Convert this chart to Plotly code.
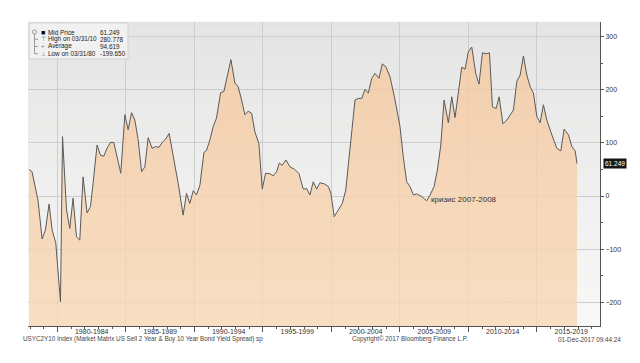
import plotly.graph_objects as go

# ---------------- data ----------------
YEARS = [1977.93, 1978.14, 1978.58, 1978.88, 1979.12, 1979.39, 1979.61, 1979.88,
         1980.22, 1980.37, 1980.66, 1980.90, 1981.14, 1981.39, 1981.63, 1981.87,
         1982.16, 1982.41, 1982.60, 1982.89, 1983.14, 1983.38, 1983.62, 1983.87,
         1984.11, 1984.35, 1984.62, 1984.92, 1985.16, 1985.41, 1985.65, 1985.89,
         1986.14, 1986.38, 1986.62, 1986.91, 1987.16, 1987.42, 1987.67, 1987.89,
         1988.15, 1988.44, 1988.81, 1989.17, 1989.42, 1989.66, 1989.91,
         1990.15, 1990.40, 1990.69, 1990.88, 1991.13, 1991.37, 1991.61, 1991.91,
         1992.15, 1992.39, 1992.66, 1992.95, 1993.19, 1993.44, 1993.68, 1993.92,
         1994.17, 1994.41, 1994.70, 1994.95, 1995.19, 1995.51, 1995.75,
         1996.00, 1996.19, 1996.41, 1996.68, 1996.97, 1997.33, 1997.63, 1997.94,
         1998.19, 1998.43, 1998.67, 1998.92, 1999.16, 1999.47, 1999.77, 1999.96,
         2000.20, 2000.50, 2000.79, 2001.04, 2001.35, 2001.72, 2001.96,
         2002.21, 2002.45, 2002.69, 2002.94, 2003.18, 2003.47, 2003.71, 2003.96,
         2004.27, 2004.64, 2005.00, 2005.24, 2005.49, 2005.73, 2005.98,
         2006.22, 2006.59, 2006.95, 2007.20, 2007.49, 2007.73, 2007.98,
         2008.22, 2008.53, 2008.78, 2009.02, 2009.26, 2009.51, 2009.75, 2009.99,
         2010.24, 2010.53, 2010.77, 2011.02, 2011.29, 2011.53, 2011.75,
         2012.02, 2012.24, 2012.51, 2012.80, 2013.04, 2013.28, 2013.53, 2013.77,
         2014.01, 2014.26, 2014.50, 2014.74, 2014.99, 2015.23, 2015.47, 2015.72,
         2016.09, 2016.45, 2016.74, 2016.98, 2017.30, 2017.55, 2017.79, 2017.92]

SPREAD_BP = [50, 46, -8, -81, -64, -15, -64, -89,
             -199.65, 112, -26, -61, -4, -77, -83, 36,
             -32, -20, 24, 96, 77, 75, 90, 101,
             101, 74, 43, 153, 125, 157, 143, 106,
             46, 55, 110, 90, 93, 92, 102, 107,
             118, 77, 24, -36, 5, -14, 10,
             2, 21, 82, 86, 106, 131, 147, 195,
             197, 228, 257, 213, 206, 181, 153, 160,
             156, 121, 99, 13, 43, 42, 38,
             46, 62, 58, 68, 55, 50, 42, 13,
             14, 2, 27, 13, 25, 23, 18, 5,
             -39, -26, -14, 11, 93, 181, 184,
             184, 201, 194, 222, 231, 222, 249, 244,
             225, 181, 131, 74, 27, 18, 2,
             4, -1, -9, 2, 18, 49, 96,
             181, 138, 187, 148, 194, 243, 239, 272,
             280.778, 231, 211, 270, 268, 270, 168,
             165, 187, 136, 143, 153, 162, 216, 228,
             264, 228, 206, 194, 150, 138, 172, 143,
             115, 90, 85, 126, 115, 93, 85, 61.249]
assert len(YEARS) == len(SPREAD_BP)

PERIOD_STARTS = [1980, 1985, 1990, 1995, 2000, 2005, 2010, 2015]
PERIOD_LABELS = ["1980-1984", "1985-1989", "1990-1994", "1995-1999",
                 "2000-2004", "2005-2009", "2010-2014", "2015-2019"]
Y_TICKS = [-200, -100, 0, 100, 200, 300]

LEGEND_LABELS = ["Mid Price", "High on 03/31/10", "Average", "Low on 03/31/80"]
LEGEND_VALUES = ["61.249", "280.778", "94.619", "-199.650"]
LEGEND_GLYPHS = ["■", "⊤", "+", "⊥"]
LAST_VALUE = SPREAD_BP[-1]

CRISIS_TEXT = "кризис 2007-2008"
CRISIS_YEAR, CRISIS_VALUE = 2007.1, -6

FOOT_LEFT = "USYC2Y10 Index (Market Matrix US Sell 2 Year & Buy 10 Year Bond Yield Spread) sp"
FOOT_MID = "Copyright© 2017 Bloomberg Finance L.P."
FOOT_RIGHT = "01-Dec-2017 09:44:24"

# ---------------- layout geometry ----------------
W, H = 640, 363
ML, MR, MT, MB = 28, 40, 22, 37
X_RANGE = [1977.85, 2019.6]
Y_RANGE = [-245, 328]
FONT = "Liberation Sans, Arial, sans-serif"

PW, PH = W - ML - MR, H - MT - MB


def px(xp):
    return (xp - ML) / PW


def py(yp):
    return (H - MB - yp) / PH


fig = go.Figure()

# baseline for fill to the bottom of the plot
fig.add_trace(go.Scatter(x=YEARS, y=[Y_RANGE[0]] * len(YEARS), mode="lines",
                         line=dict(width=0), hoverinfo="skip", showlegend=False))
fig.add_trace(go.Scatter(
    x=YEARS, y=SPREAD_BP, mode="lines",
    line=dict(color="#5a5a5a", width=1),
    fill="tonexty",
    fillgradient=dict(type="vertical",
                      colorscale=[[0, "rgba(249,216,183,0.82)"],
                                  [1, "rgba(244,202,162,0.82)"]]),
    showlegend=False))
# invisible trace for label axis
fig.add_trace(go.Scatter(x=[X_RANGE[0]], y=[0], xaxis="x2", mode="markers",
                         marker=dict(opacity=0), hoverinfo="skip", showlegend=False))

shapes = []
# background gradient of plot area
N = 40
c_top, c_bot = (228, 228, 228), (248, 248, 247)
for i in range(N):
    t = i / (N - 1)
    c = tuple(round(c_top[k] + (c_bot[k] - c_top[k]) * t) for k in range(3))
    shapes.append(dict(type="rect", xref="x domain", yref="y domain",
                       x0=0, x1=1, y0=1 - (i + 1) / N, y1=1 - i / N + 0.001,
                       fillcolor="rgb(%d,%d,%d)" % c, line=dict(width=0), layer="below"))

# legend box
shapes.append(dict(type="rect", xref="paper", yref="paper",
                   x0=px(29), x1=px(128), y0=py(59), y1=py(23),
                   fillcolor="#f1f1f1", line=dict(color="#cfcfcf", width=1), layer="above"))
shapes.append(dict(type="line", xref="paper", yref="paper",
                   x0=px(34.5), x1=px(34.5), y0=py(53.7), y1=py(33),
                   line=dict(color="#9a9a9a", width=1), layer="above"))
ROW_Y = [32, 39.3, 46.5, 53.7]
for ry in ROW_Y[1:]:
    shapes.append(dict(type="line", xref="paper", yref="paper",
                       x0=px(34.5), x1=px(38), y0=py(ry), y1=py(ry),
                       line=dict(color="#9a9a9a", width=1), layer="above"))
shapes.append(dict(type="circle", xref="paper", yref="paper",
                   x0=px(32.5), x1=px(36.5), y0=py(34), y1=py(30),
                   line=dict(color="#9a9a9a", width=1), fillcolor="#f1f1f1", layer="above"))

annotations = []
for i, (lab, val, gl) in enumerate(zip(LEGEND_LABELS, LEGEND_VALUES, LEGEND_GLYPHS)):
    annotations.append(dict(xref="paper", yref="paper", x=px(38.5), y=py(ROW_Y[i]),
                            text=gl, showarrow=False, xanchor="left", yanchor="middle",
                            font=dict(family=FONT, size=7 if i == 0 else 6,
                                      color="#000" if i == 0 else "#777")))
    annotations.append(dict(xref="paper", yref="paper", x=px(45.5), y=py(ROW_Y[i]),
                            text=lab, showarrow=False, xanchor="left", yanchor="middle",
                            font=dict(family=FONT, size=6.4, color="#222")))
    annotations.append(dict(xref="paper", yref="paper", x=px(98), y=py(ROW_Y[i]),
                            text=val, showarrow=False, xanchor="left", yanchor="middle",
                            font=dict(family=FONT, size=6.4, color="#222")))

# last value tag
annotations.append(dict(xref="paper", yref="y", x=px(603), y=LAST_VALUE,
                        text="%.3f" % LAST_VALUE, showarrow=False, xanchor="left",
                        yanchor="middle", bgcolor="#151515", borderpad=1,
                        font=dict(family=FONT, size=6.5, color="#ffffff")))
# crisis label
annotations.append(dict(xref="x", yref="y", x=CRISIS_YEAR, y=CRISIS_VALUE,
                        text=CRISIS_TEXT, showarrow=False, xanchor="left", yanchor="middle",
                        font=dict(family=FONT, size=8, color="#333")))
# footer
annotations.append(dict(xref="paper", yref="paper", x=px(21), y=py(339), text=FOOT_LEFT,
                        showarrow=False, xanchor="left", yanchor="middle",
                        font=dict(family=FONT, size=6.3, color="#444")))
annotations.append(dict(xref="paper", yref="paper", x=px(350), y=py(339), text=FOOT_MID,
                        showarrow=False, xanchor="left", yanchor="middle",
                        font=dict(family=FONT, size=6.3, color="#444")))
annotations.append(dict(xref="paper", yref="paper", x=px(623), y=py(339), text=FOOT_RIGHT,
                        showarrow=False, xanchor="right", yanchor="middle",
                        font=dict(family=FONT, size=6.3, color="#444")))

fig.update_layout(
    width=W, height=H, margin=dict(l=ML, r=MR, t=MT, b=MB),
    paper_bgcolor="white", plot_bgcolor="rgba(0,0,0,0)",
    showlegend=False, shapes=shapes, annotations=annotations,
    xaxis=dict(range=X_RANGE, tickmode="array", tickvals=PERIOD_STARTS,
               showticklabels=False, ticks="outside", ticklen=5, tickcolor="#555",
               showgrid=True, gridcolor="#cdcdcd", gridwidth=1,
               showline=True, linecolor="#555", linewidth=1, zeroline=False,
               minor=dict(tickmode="linear", tick0=1978, dtick=1, ticks="outside",
                          ticklen=2, tickcolor="#555", showgrid=False)),
    xaxis2=dict(range=X_RANGE, overlaying="x", anchor="y", side="bottom",
                tickmode="array", tickvals=[s + 2.5 for s in PERIOD_STARTS],
                ticktext=PERIOD_LABELS, ticks="", showgrid=False, showline=False,
                zeroline=False, tickfont=dict(family=FONT, size=7, color="#333")),
    yaxis=dict(range=Y_RANGE, side="right", tickmode="array", tickvals=Y_TICKS,
               ticks="outside", ticklen=3, tickcolor="#555",
               tickfont=dict(family=FONT, size=7, color="#333"),
               showgrid=True, gridcolor="#cdcdcd", gridwidth=1,
               showline=True, linecolor="#555", linewidth=1, zeroline=False,
               minor=dict(tickmode="linear", tick0=-250, dtick=50, ticks="outside",
                          ticklen=2, tickcolor="#555", showgrid=False)),
)

fig.write_html("out.html", config={"displayModeBar": False},
               post_script="document.body.style.margin='0';document.body.style.overflow='hidden';")
